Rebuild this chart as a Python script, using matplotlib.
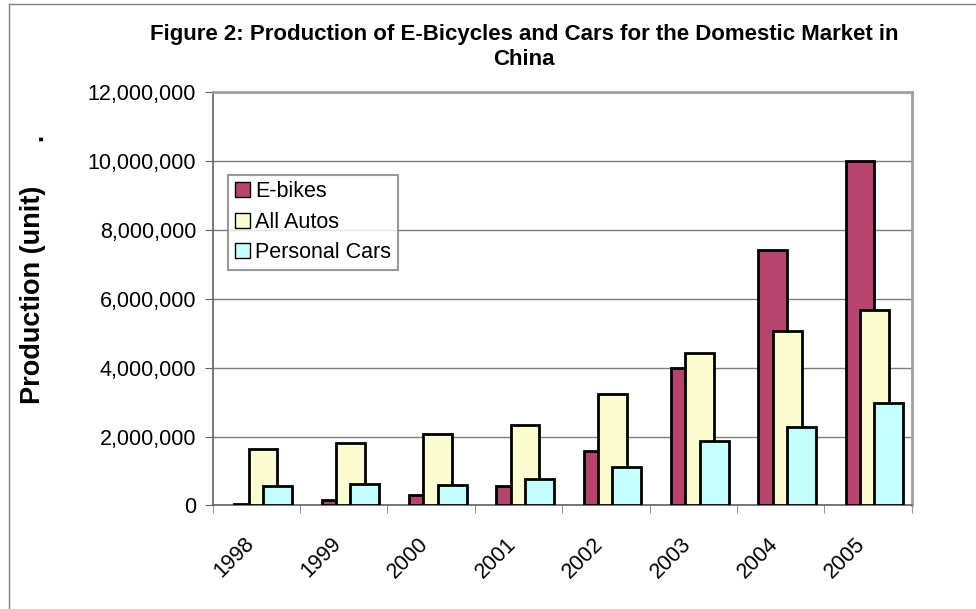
import numpy as np
import matplotlib.pyplot as plt
from matplotlib.lines import Line2D
from matplotlib.ticker import FuncFormatter, FixedLocator

plt.rcParams['font.family'] = ['Liberation Sans', 'DejaVu Sans']

# data
years = ['1998', '1999', '2000', '2001', '2002', '2003', '2004', '2005']
ebikes = [50000, 150000, 290000, 560000, 1580000, 3990000, 7400000, 10000000]
all_autos = [1630000, 1820000, 2070000, 2340000, 3240000, 4430000, 5060000, 5680000]
personal_cars = [560000, 610000, 600000, 780000, 1110000, 1860000, 2290000, 2980000]

series = [('E-bikes', ebikes, '#b5446f'),
          ('All Autos', all_autos, '#fbfcd2'),
          ('Personal Cars', personal_cars, '#c6ffff')]
offsets = [-0.09, 0.075, 0.24]
width = 0.33

fig = plt.figure(figsize=(9.76, 6.09), dpi=100)
ax = fig.add_axes([0.218, 0.170, 0.716, 0.679])

x = np.arange(len(years))
for (name, vals, col), off in zip(series, offsets):
    ax.bar(x + off, vals, width=width, color=col, edgecolor='black',
           linewidth=2, label=name, zorder=3)

ax.set_xlim(-0.5, len(years) - 0.5)
ax.set_ylim(0, 12000000)
ax.set_yticks(np.arange(0, 12000001, 2000000))
ax.yaxis.set_major_formatter(FuncFormatter(lambda v, p: f'{int(v):,}'))
ax.yaxis.grid(True, color='#7f7f7f', linewidth=1, zorder=0)

# rotated labels sit a little left of the category centre, like the original
ax.set_xticks(x - 0.15)
ax.set_xticklabels(years, rotation=45, ha='right', va='top',
                   rotation_mode='anchor', fontsize=15.5)
ax.xaxis.set_minor_locator(FixedLocator(np.arange(-0.5, len(years), 1)))
ax.tick_params(axis='x', which='major', length=0, pad=20)
ax.tick_params(axis='x', which='minor', length=6, color='#808080')
ax.tick_params(axis='y', length=6, color='#606060', labelsize=15.5, pad=6)

for s in ['left', 'bottom']:
    ax.spines[s].set_color('#606060')
    ax.spines[s].set_linewidth(1.2)
for s in ['top', 'right']:
    ax.spines[s].set_color('#a0a0a0')
    ax.spines[s].set_linewidth(2)

ax.set_ylabel('Production (unit)', fontsize=19.5, fontweight='bold')
ax.yaxis.set_label_coords(-0.238, 0.51)
fig.text(0.036, 0.775, '.', fontsize=18, fontweight='bold', rotation=90,
         ha='center', va='center')

fig.text(0.537, 0.923,
         'Figure 2: Production of E-Bicycles and Cars for the Domestic Market in\nChina',
         ha='center', va='center', fontsize=16, fontweight='bold', linespacing=1.25)

leg = ax.legend(loc='upper left', bbox_to_anchor=(0.022, 0.80), fontsize=15.5,
                frameon=True, fancybox=False, borderpad=0.3, labelspacing=0.45,
                handlelength=0.7, handleheight=0.7, handletextpad=0.25,
                borderaxespad=0)
leg.get_frame().set_edgecolor('#808080')
leg.get_frame().set_linewidth(1.5)
for h in leg.legend_handles:
    h.set_linewidth(1)

# page border lines
fig.add_artist(Line2D([0.009, 0.009], [0, 0.993], transform=fig.transFigure,
                      color='#808080', linewidth=1))
fig.add_artist(Line2D([0.009, 1], [0.993, 0.993], transform=fig.transFigure,
                      color='#808080', linewidth=1))

fig.savefig('out.png', dpi=100)
